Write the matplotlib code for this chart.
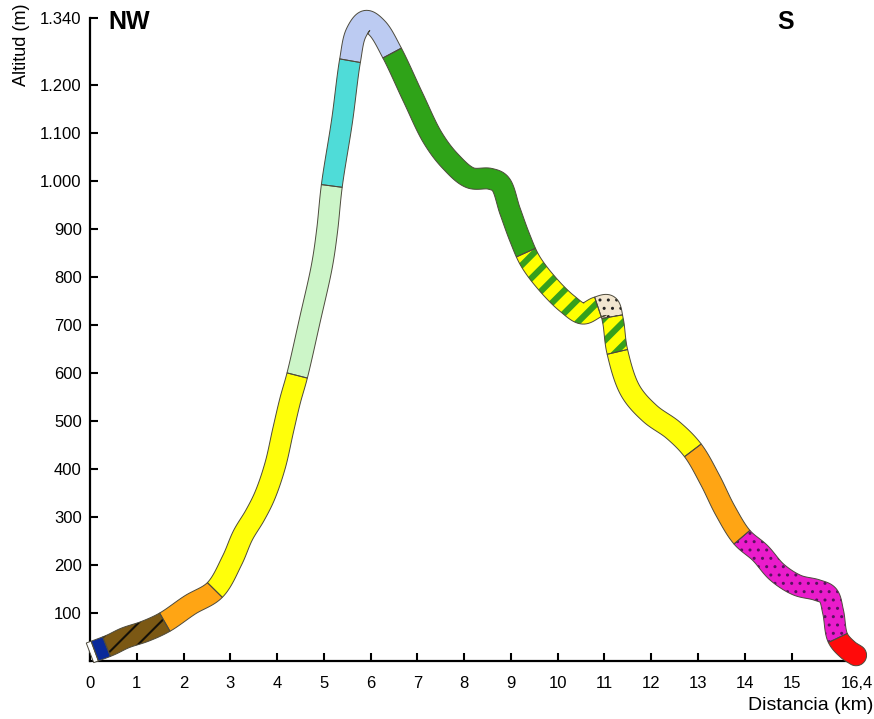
import numpy as np
import matplotlib
matplotlib.use("Agg")
import matplotlib.pyplot as plt
from matplotlib.patches import Polygon
from matplotlib.collections import LineCollection

plt.rcParams['font.family'] = ['Liberation Sans', 'DejaVu Sans']

# Elevation profile (centre line of the band)
dist_km = [0.0, 0.43, 0.75, 1.18, 1.60, 2.14, 2.67, 3.04, 3.27, 3.53, 3.74, 3.96,
           4.13, 4.28, 4.43, 4.70, 4.96, 5.07, 5.17, 5.39, 5.56, 5.69, 5.90, 6.14,
           6.46, 6.91, 7.33, 7.70, 8.13, 8.55, 8.77, 8.98, 9.19, 9.41, 9.77, 10.20,
           10.54, 10.84, 11.08, 11.18, 11.27, 11.55, 11.97, 12.47, 12.89, 13.26,
           13.58, 13.94, 14.33, 14.69, 15.12, 15.54, 15.78, 15.89, 15.99, 16.21, 16.38]
alt_m = [17, 33, 48, 62, 81, 117, 148, 210, 262, 304, 345, 408,
         481, 543, 595, 710, 824, 897, 990, 1126, 1251, 1309, 1334, 1319,
         1267, 1174, 1090, 1042, 1007, 1005, 995, 938, 882, 834, 787, 745,
         724, 737, 741, 710, 647, 564, 516, 481, 439, 377,
         314, 258, 225, 185, 158, 148, 137, 102, 48, 23, 12]

# Stretches along the route (km)
seg_start = [0.0, 0.10, 0.35, 1.60, 2.67, 4.43, 5.17, 5.56, 6.46, 9.33,
             10.86, 11.16, 11.28, 12.89, 13.94, 15.99]
seg_end = seg_start[1:] + [16.38]
seg_fill = ['#ffffff', '#0a2a9a', '#7b5814', '#ffa514', '#ffff0a', '#ccf5c8',
            '#4fdcd8', '#bccbf2', '#2fa318', '#ffff00', '#f2e6d0', '#ffff00',
            '#ffff0a', '#ffa514', '#ea1ccb', '#ff0a0a']
# 'lines' = diagonal line pattern, 'dots' = dotted pattern
seg_pattern = [None, None, 'lines', None, None, None, None, None, None, 'lines',
               'dots', 'lines', None, None, 'dots', None]
seg_pattern_color = [None, None, '#141008', None, None, None, None, None, None,
                     '#35a01c', '#222222', '#35a01c', None, None, '#5a1060', None]
seg_line_width = [0, 0, 1.5, 0, 0, 0, 0, 0, 0, 4.4, 0, 4.4, 0, 0, 0, 0]
seg_line_step = [0, 0, 15, 0, 0, 0, 0, 0, 0, 16, 0, 16, 0, 0, 0, 0]

xticks = [0, 1, 2, 3, 4, 5, 6, 7, 8, 9, 10, 11, 12, 13, 14, 15, 16.4]
xtick_labels = ['0', '1', '2', '3', '4', '5', '6', '7', '8', '9', '10', '11',
                '12', '13', '14', '15', '16,4']
yticks = [100, 200, 300, 400, 500, 600, 700, 800, 900, 1000, 1100, 1200, 1340]
ytick_labels = ['100', '200', '300', '400', '500', '600', '700', '800', '900',
                '1.000', '1.100', '1.200', '1.340']

W, H = 874, 719
fig = plt.figure(figsize=(W / 100, H / 100), dpi=100)
ax = fig.add_axes([90 / W, 1 - 661 / H, (857 - 90) / W, (661 - 18) / H])
ax.set_xlim(0, 16.4)
ax.set_ylim(0, 1340)

# --- build the band in display space -------------------------------------
P = ax.transData.transform(np.column_stack([dist_km, alt_m]))
n = len(P)
ext = np.vstack([2 * P[0] - P[1], P, 2 * P[-1] - P[-2]])


def catmull(u):
    u = np.atleast_1d(u).astype(float)
    i = np.clip(np.floor(u).astype(int), 0, n - 2)
    t = (u - i)[:, None]
    P0, P1, P2, P3 = ext[i], ext[i + 1], ext[i + 2], ext[i + 3]
    a = 0.5
    t0 = np.zeros((len(u), 1))
    t1 = t0 + np.linalg.norm(P1 - P0, axis=1, keepdims=True) ** a + 1e-9
    t2 = t1 + np.linalg.norm(P2 - P1, axis=1, keepdims=True) ** a + 1e-9
    t3 = t2 + np.linalg.norm(P3 - P2, axis=1, keepdims=True) ** a + 1e-9
    tt = t1 + t * (t2 - t1)
    A1 = (t1 - tt) / (t1 - t0) * P0 + (tt - t0) / (t1 - t0) * P1
    A2 = (t2 - tt) / (t2 - t1) * P1 + (tt - t1) / (t2 - t1) * P2
    A3 = (t3 - tt) / (t3 - t2) * P2 + (tt - t2) / (t3 - t2) * P3
    B1 = (t2 - tt) / (t2 - t0) * A1 + (tt - t0) / (t2 - t0) * A2
    B2 = (t3 - tt) / (t3 - t1) * A2 + (tt - t1) / (t3 - t1) * A3
    return (t2 - tt) / (t2 - t1) * B1 + (tt - t1) / (t2 - t1) * B2


def drop_backtracks(side, tan):
    """Collapse the loops an offset curve makes on the inside of tight bends."""
    out = side.copy()
    last = out[0].copy()
    for j in range(1, len(out)):
        if np.dot(side[j] - last, tan[j]) > 0:
            last = side[j].copy()
        out[j] = last
    return out


def diagonal_lines(poly_px, step, angle=45.0):
    d = np.array([np.cos(np.radians(angle)), np.sin(np.radians(angle))])
    nn = np.array([-d[1], d[0]])
    pn = poly_px @ nn
    pd = poly_px @ d
    cs = np.arange(np.floor(pn.min() / step) * step, pn.max() + step, step)
    t0, t1 = pd.min() - 5, pd.max() + 5
    return [np.array([c * nn + t0 * d, c * nn + t1 * d]) for c in cs]


idx = np.arange(n, dtype=float)
bounds_u = np.interp(seg_start + [seg_end[-1]], dist_km, idx)
u_all = np.unique(np.concatenate([np.linspace(0, n - 1, (n - 1) * 16 + 1), bounds_u]))
C = catmull(u_all)
eps = 1e-3
tan = catmull(np.clip(u_all + eps, 0, n - 1)) - catmull(np.clip(u_all - eps, 0, n - 1))
tan /= np.linalg.norm(tan, axis=1, keepdims=True)
nrm = np.column_stack([-tan[:, 1], tan[:, 0]])
hw = 10.5
left = drop_backtracks(C + hw * nrm, tan)
right = drop_backtracks(C - hw * nrm, tan)

inv = ax.transData.inverted()
for k in range(len(seg_start)):
    ua = np.interp(seg_start[k], dist_km, idx)
    ub = np.interp(seg_end[k], dist_km, idx)
    m = (u_all >= ua - 1e-9) & (u_all <= ub + 1e-9)
    parts = [left[m]]
    if k == len(seg_start) - 1:
        ang = np.arctan2(nrm[m][-1, 1], nrm[m][-1, 0])
        th = np.linspace(ang, ang - np.pi, 24)
        parts.append(C[m][-1] + hw * np.column_stack([np.cos(th), np.sin(th)]))
    parts.append(right[m][::-1])
    poly_px = np.vstack(parts)
    poly = inv.transform(poly_px)

    pat = seg_pattern[k]
    face = Polygon(poly, closed=True, facecolor=seg_fill[k],
                   edgecolor=seg_pattern_color[k] if pat == 'dots' else 'none',
                   linewidth=0, hatch='..' if pat == 'dots' else None,
                   clip_on=False, zorder=3)
    ax.add_patch(face)
    if pat == 'lines':
        segs = [inv.transform(s) for s in diagonal_lines(poly_px, seg_line_step[k])]
        lc = LineCollection(segs, colors=seg_pattern_color[k],
                            linewidths=seg_line_width[k], zorder=3.05,
                            capstyle='butt')
        ax.add_collection(lc)
        lc.set_clip_path(face)
    ax.add_patch(Polygon(poly, closed=True, fill=False, edgecolor='#4d4a3c',
                         linewidth=0.7, clip_on=False, zorder=3.1))

# --- axes ------------------------------------------------------------------
for s in ['top', 'right']:
    ax.spines[s].set_visible(False)
for s in ['left', 'bottom']:
    ax.spines[s].set_linewidth(1.6)
ax.set_xticks(xticks)
ax.set_xticklabels(xtick_labels)
ax.set_yticks(yticks)
ax.set_yticklabels(ytick_labels)
ax.tick_params(direction='in', length=6, width=1.5, labelsize=12)
ax.tick_params(axis='x', pad=11)
ax.tick_params(axis='y', pad=6)

fig.text(108 / W, 1 - 22 / H, 'NW', fontsize=18, fontweight='bold',
         ha='left', va='center')
fig.text(777 / W, 1 - 22 / H, 'S', fontsize=18, fontweight='bold',
         ha='left', va='center')
fig.text(22 / W, 1 - 4 / H, 'Altitud (m)', rotation=90, fontsize=13,
         ha='center', va='top')
fig.text(873 / W, 1 - 706 / H, 'Distancia (km)', fontsize=14,
         ha='right', va='center')

fig.savefig('out.png', dpi=100)
